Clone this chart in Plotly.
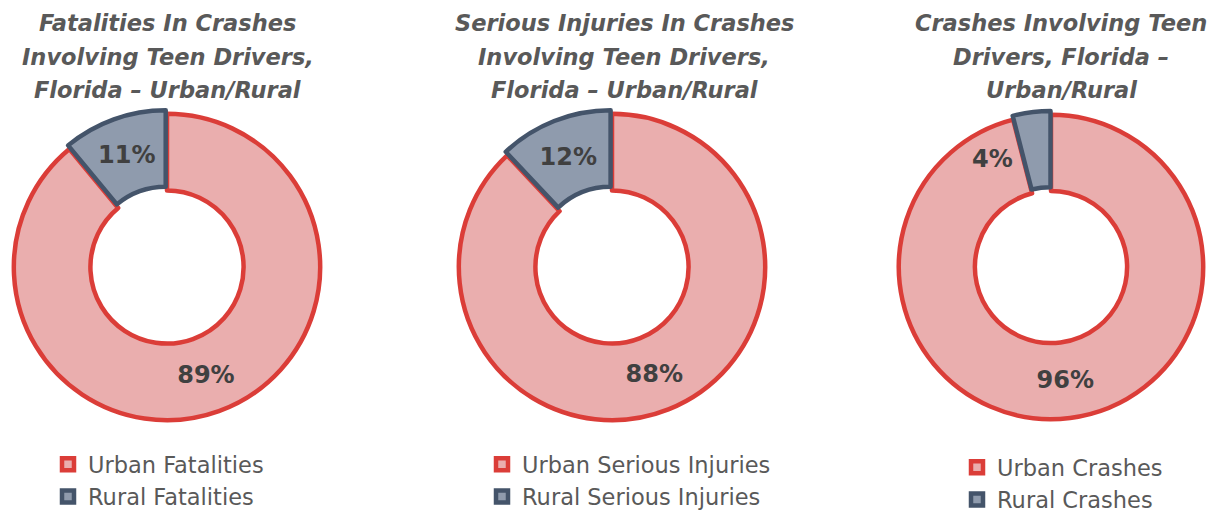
import math
import plotly.graph_objects as go

titles = [
    ["Fatalities In Crashes", "Involving Teen Drivers,", "Florida – Urban/Rural"],
    ["Serious Injuries In Crashes", "Involving Teen Drivers,", "Florida – Urban/Rural"],
    ["Crashes Involving Teen", "Drivers, Florida –", "Urban/Rural"],
]
labels_1 = ["Urban Fatalities", "Rural Fatalities"]
labels_2 = ["Urban Serious Injuries", "Rural Serious Injuries"]
labels_3 = ["Urban Crashes", "Rural Crashes"]
values_1 = [89, 11]
values_2 = [88, 12]
values_3 = [96, 4]

W, H = 1215, 513
FONT = "DejaVu Sans"
URBAN_FILL = "#eaaeae"
URBAN_LINE = "#db3d38"
RURAL_FILL = "#8f9bad"
RURAL_LINE = "#44546a"
TEXT = "#404040"
GRAY = "#595959"

centers = [167, 612, 1051]
halves = [157, 157, 156]
cy = 267
PULL = 0.025

fig = go.Figure()
legends = ["legend", "legend2", "legend3"]
data = [(labels_1, values_1), (labels_2, values_2), (labels_3, values_3)]
for i, (labs, vals) in enumerate(data):
    cx = centers[i]
    half = halves[i]
    small = vals[1] < 8
    fig.add_trace(go.Pie(
        labels=labs, values=vals, hole=0.5, sort=False, direction="clockwise",
        pull=[0, PULL],
        marker=dict(colors=[URBAN_FILL, RURAL_FILL],
                    line=dict(color=[URBAN_LINE, RURAL_LINE], width=4.5)),
        textinfo="percent", texttemplate="%{percent:.0%}",
        textposition=["inside", "none"] if small else "inside",
        insidetextorientation="horizontal",
        textfont=dict(family=FONT, size=24, color=TEXT, weight="bold"),
        domain=dict(x=[max(0, (cx - half) / W), min(1, (cx + half) / W)],
                    y=[(H - (cy + half)) / H, (H - (cy - half)) / H]),
        legend=legends[i], hoverinfo="label+percent",
    ))
    if small:
        # label placed just beside the thin slice, inside the ring
        r = half / (1 + PULL)
        share = vals[1] / sum(vals)
        ang = math.radians(share * 360 + 14)
        rr = r * 0.81
        fig.add_annotation(
            x=(cx - rr * math.sin(ang)) / W, y=1 - (cy - rr * math.cos(ang)) / H,
            xref="paper", yref="paper", showarrow=False,
            xanchor="center", yanchor="middle",
            text=f"<b>{vals[1]}%</b>",
            font=dict(family=FONT, size=24, color=TEXT),
        )

title_x = [168, 624, 1061]
line_y = [23, 57, 90]
for i, lines in enumerate(titles):
    for j, t in enumerate(lines):
        fig.add_annotation(
            x=title_x[i] / W, y=1 - line_y[j] / H, xref="paper", yref="paper",
            xanchor="center", yanchor="middle", showarrow=False,
            text=f"<b><i>{t}</i></b>",
            font=dict(family=FONT, size=22.5, color=GRAY),
        )

leg_x = [48, 482, 957]
leg_y = [443, 443, 446]
leg_common = dict(font=dict(family=FONT, size=22.5, color=GRAY), bgcolor="rgba(0,0,0,0)",
                  xanchor="left", yanchor="top", tracegroupgap=0)
fig.update_layout(
    width=W, height=H, margin=dict(l=0, r=0, t=0, b=0, autoexpand=False),
    paper_bgcolor="white", plot_bgcolor="white",
    showlegend=True,
    legend=dict(x=leg_x[0] / W, y=1 - leg_y[0] / H, **leg_common),
    legend2=dict(x=leg_x[1] / W, y=1 - leg_y[1] / H, **leg_common),
    legend3=dict(x=leg_x[2] / W, y=1 - leg_y[2] / H, **leg_common),
)
fig.write_html("out.html", config={"displayModeBar": False},
               post_script="document.body.style.margin='0px';")
